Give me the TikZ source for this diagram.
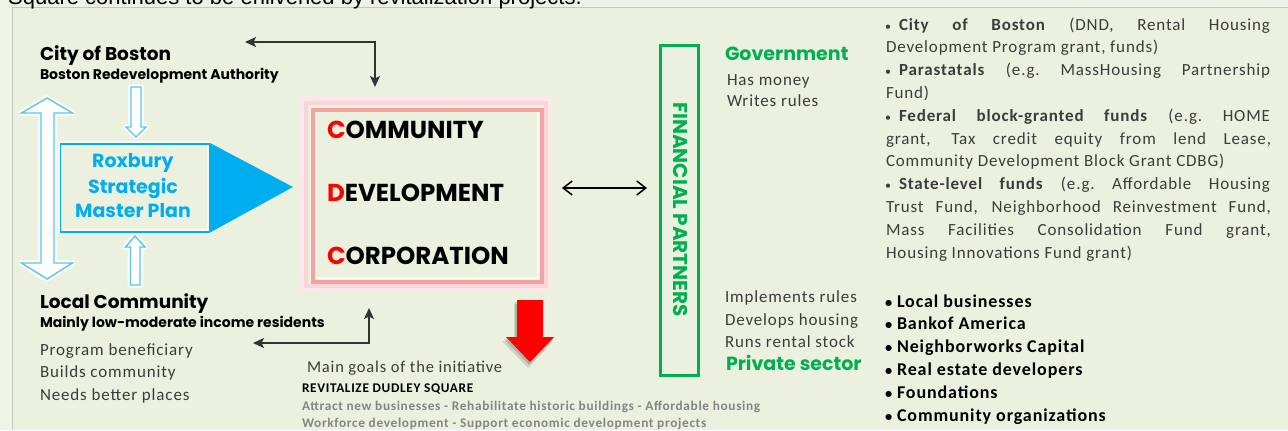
\documentclass[tikz,border=0pt]{standalone}
\usepackage{fontspec}
\setmainfont{Carlito}
\newfontfamily\bodyfont{Carlito}[LetterSpace=5]
\newfontfamily\geo{Poppins}
\newfontfamily\arialfont{Liberation Sans}
\usetikzlibrary{arrows.meta}
\definecolor{bgin}{HTML}{EBF1DE}
\definecolor{bgout}{HTML}{EEF2E7}
\definecolor{framegray}{HTML}{C5C9BD}
\definecolor{cblue}{HTML}{00AEEF}
\definecolor{lblue}{HTML}{5EC4EE}
\definecolor{cgreen}{HTML}{00B050}
\definecolor{cpink}{HTML}{F4A3A3}
\definecolor{cred}{HTML}{FF0000}
\definecolor{tdark}{HTML}{3C3C3C}
\definecolor{tgray}{HTML}{858585}
\definecolor{ablack}{HTML}{333333}
\tikzset{
 txt/.style={anchor=base west, inner sep=0pt, outer sep=0pt},
 head/.style={txt, font=\geo\bfseries\fontsize{18.5bp}{22bp}\selectfont, text=black},
 subhead/.style={txt, font=\geo\bfseries\fontsize{14bp}{16bp}\selectfont, text=black},
 body/.style={txt, font=\bodyfont\fontsize{17bp}{20bp}\selectfont, text=tdark},
 cdcword/.style={txt, font=\geo\bfseries\fontsize{24.5bp}{28bp}\selectfont, text=black},
 roxtxt/.style={anchor=base, inner sep=0pt, font=\geo\bfseries\fontsize{19bp}{22bp}\selectfont, text=cblue},
 greenhead/.style={txt, font=\geo\bfseries\fontsize{19bp}{22bp}\selectfont, text=cgreen},
 para/.style={txt, font=\bodyfont\fontsize{17bp}{20bp}\selectfont, text=tdark},
 listitem/.style={txt, font=\bodyfont\bfseries\fontsize{18bp}{20bp}\selectfont, text=black},
 goal/.style={txt, font=\bodyfont\bfseries\fontsize{13.3bp}{15bp}\selectfont, text=tgray},
 hollow/.style={draw=lblue, fill=white, line width=1.4bp, line join=miter},
 halo/.style={draw=white, line width=6bp, opacity=0.8, line join=round},
 conn/.style={draw=ablack, line width=1.6bp, {Stealth[length=11bp,width=10bp,inset=2.5bp]}-{Stealth[length=11bp,width=10bp,inset=2.5bp]}},
 conn2/.style={draw=black, line width=1.5bp, {Straight Barb[length=9bp,width=14bp]}-{Straight Barb[length=9bp,width=14bp]}},
}
\newcommand{\jline}[1]{\makebox[385bp][s]{#1}}
\newcommand{\bul}{\makebox[14bp][l]{\scalebox{0.7}{\textbullet}}}
\newcommand{\lbul}{\makebox[12bp][l]{\scalebox{0.8}{\textbullet}}}
\begin{document}
\begin{tikzpicture}[x=1bp,y=-1bp]
\useasboundingbox (0,0) rectangle (1288,430);
\clip (0,0) rectangle (1288,430);
\fill[bgout] (0,0) rectangle (1288,430);
\fill[bgin] (12,7) rectangle (1288,430);
\draw[framegray, line width=1bp] (12,430) -- (12,7) -- (1288,7);
\node[anchor=base west, inner sep=0pt, font=\arialfont\fontsize{22bp}{26bp}\selectfont] (title) at (8,4) {Square continues to be enlivened by revitalization projects.};

% hollow blue arrows
\path[halo] (47,98) -- (72.5,113) -- (54,113) -- (54,263) -- (72.5,263) -- (47,279) -- (21.5,263) -- (41,263) -- (41,113) -- (21.5,113) -- cycle;
\path[hollow] (47,98) -- (72.5,113) -- (54,113) -- (54,263) -- (72.5,263) -- (47,279) -- (21.5,263) -- (41,263) -- (41,113) -- (21.5,113) -- cycle;
\path[halo] (131,87) -- (141,87) -- (141,127) -- (146,127) -- (136,137) -- (126,127) -- (131,127) -- cycle;
\path[hollow] (131,87) -- (141,87) -- (141,127) -- (146,127) -- (136,137) -- (126,127) -- (131,127) -- cycle;
\path[halo] (135,236) -- (145,247) -- (140,247) -- (140,285) -- (130.5,285) -- (130.5,247) -- (125.5,247) -- cycle;
\path[hollow] (135,236) -- (145,247) -- (140,247) -- (140,285) -- (130.5,285) -- (130.5,247) -- (125.5,247) -- cycle;

% Roxbury box and triangle
\draw[white, line width=4bp, opacity=0.6] (59.5,143) rectangle (208.5,231);
\node[draw=cblue, line width=1.5bp, minimum width=149bp, minimum height=88bp, inner sep=0pt, anchor=north west] (rox) at (59.5,143) {};
\fill[cblue] (rox.north east) -- (293,187) -- (rox.south east) -- cycle;
\node[roxtxt] (rox1) at (133,167) {Roxbury};
\node[roxtxt] (rox2) at (133,193) {Strategic};
\node[roxtxt] (rox3) at (133,217) {Master Plan};

% CDC box with outward glow
\draw[cpink!25, line width=6bp, line join=round] (302,99) rectangle (549,289);
\draw[cpink!45, line width=4bp, line join=round] (305.5,102.5) rectangle (545.5,285.5);
\draw[white, line width=2bp, opacity=0.5] (313,110) rectangle (538,278);
\node[draw=cpink, line width=4bp, minimum width=229bp, minimum height=172bp, anchor=north west, inner sep=0pt] (cdc) at (311,108) {};
\node[cdcword] (c1) at (327,138) {\textcolor{cred}{C}OMMUNITY};
\node[cdcword] (c2) at (327,201) {\textcolor{cred}{D}EVELOPMENT};
\node[cdcword] (c3) at (327,264) {\textcolor{cred}{C}ORPORATION};

% red arrow
\fill[black, opacity=0.12] (514,304) -- (540,304) -- (540,341) -- (553,341) -- (528,368) -- (502,341) -- (514,341) -- cycle;
\fill[black, opacity=0.15] (515,302) -- (541,302) -- (541,339) -- (553,339) -- (529,365) -- (504,339) -- (515,339) -- cycle;
\fill[cred] (517,300) -- (543,300) -- (543,337) -- (554,337) -- (530,362) -- (506,337) -- (517,337) -- cycle;

% financial partners box
\node[draw=cgreen, line width=3bp, minimum width=38bp, minimum height=330bp, inner sep=0pt] (fp) at (679,210) {};
\node[rotate=-90, inner sep=0pt, font=\geo\bfseries\fontsize{20bp}{22bp}\selectfont, text=cgreen] (fpt) at (680.5,209.5) {FINANCIAL PARTNERS};

% connectors
\coordinate (t1) at (245,42);
\coordinate (t2) at (375,87);
\draw[conn] (t1) -| (t2);
\coordinate (b1) at (253,343);
\coordinate (b2) at (369,308);
\draw[conn] (b1) -| (b2);
\coordinate (m1) at (562,188);
\coordinate (m2) at (647,188);
\draw[conn2] (m1) -- (m2);

% left texts
\node[head] (cob) at (40,60) {City of Boston};
\node[subhead] (bra) at (40,79) {Boston Redevelopment Authority};
\node[head] (lc) at (40,308) {Local Community};
\node[subhead] (lcs) at (40,327) {Mainly low-moderate income residents};
\node[body] (lc1) at (40,355) {Program beneficiary};
\node[body] (lc2) at (40,377) {Builds community};
\node[body] (lc3) at (40,400) {Needs better places};

% goals
\node[body, font=\bodyfont\fontsize{16.5bp}{20bp}\selectfont] (mg) at (307,372) {Main goals of the initiative};
\node[goal, text=black] (mg1) at (302,392) {REVITALIZE DUDLEY SQUARE};
\node[goal] (mg2) at (302,410) {Attract new businesses - Rehabilitate historic buildings - Affordable housing};
\node[goal] (mg3) at (302,427) {Workforce development - Support economic development projects};

% government / private
\node[greenhead] (gov) at (725,60) {Government};
\node[body] (gov1) at (727,85) {Has money};
\node[body] (gov2) at (727,106) {Writes rules};
\node[body] (pr1) at (725,302) {Implements rules};
\node[body] (pr2) at (725,325) {Develops housing};
\node[body] (pr3) at (725,347) {Runs rental stock};
\node[greenhead] (prv) at (726,370) {Private sector};

% right paragraph
\node[para] (r1) at (885,30) {\jline{\bul\textbf{City of Boston} (DND, Rental Housing}};
\node[para] (r2) at (886,52.8) {Development Program grant, funds)};
\node[para] (r3) at (885,75.6) {\jline{\bul\textbf{Parastatals} (e.g.\ MassHousing Partnership}};
\node[para] (r4) at (886,98.4) {Fund)};
\node[para] (r5) at (885,121.2) {\jline{\bul\textbf{Federal block-granted funds} (e.g.\ HOME}};
\node[para] (r6) at (886,144) {\jline{grant, Tax credit equity from lend Lease,}};
\node[para] (r7) at (886,166.8) {Community Development Block Grant CDBG)};
\node[para] (r8) at (885,189.6) {\jline{\bul\textbf{State-level funds} (e.g.\ Affordable Housing}};
\node[para] (r9) at (886,212.4) {\jline{Trust Fund, Neighborhood Reinvestment Fund,}};
\node[para] (r10) at (886,235.2) {\jline{Mass Facilities Consolidation Fund grant,}};
\node[para] (r11) at (886,258) {Housing Innovations Fund grant)};

% private list
\node[listitem] (l1) at (885,307) {\lbul Local businesses};
\node[listitem] (l2) at (885,329.8) {\lbul Bankof America};
\node[listitem] (l3) at (885,352.6) {\lbul Neighborworks Capital};
\node[listitem] (l4) at (885,375.4) {\lbul Real estate developers};
\node[listitem] (l5) at (885,398.2) {\lbul Foundations};
\node[listitem] (l6) at (885,421) {\lbul Community organizations};
\end{tikzpicture}
\end{document}
